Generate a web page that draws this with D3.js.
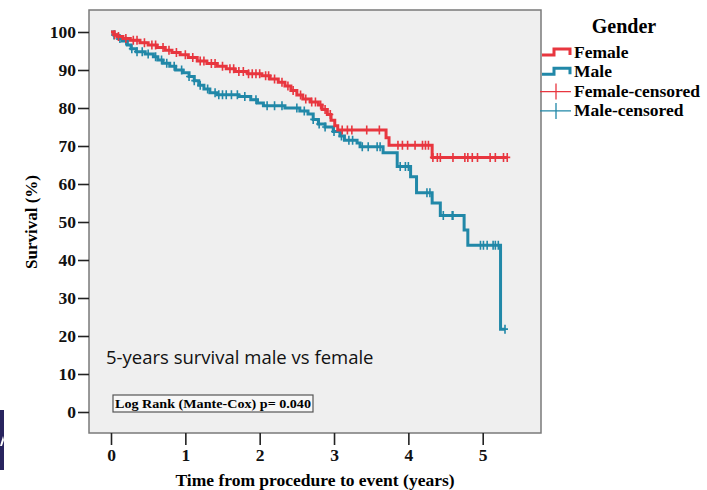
<!DOCTYPE html>
<html>
<head>
<meta charset="utf-8">
<script src="https://cdn.jsdelivr.net/npm/d3@7"></script>
<style>
  body { margin: 0; background: #fff; }
  svg { display: block; }
</style>
</head>
<body>
<div class="canvas"></div>
<script>
const dims = { width: 707, height: 490 };

// Female (Kaplan-Meier steps: event time in years, survival % after step)
const femaleTimes = [0.04, 0.09, 0.16, 0.26, 0.39, 0.50, 0.62, 0.73, 0.82, 0.93, 1.04, 1.16, 1.29, 1.43, 1.55, 1.67, 1.84, 2.03, 2.14, 2.25, 2.34, 2.42, 2.50, 2.58, 2.68, 2.79, 2.84, 2.91, 2.96, 3.01, 3.05, 3.70, 3.74, 4.32];
const femaleSurv = [99.3, 98.8, 98.3, 97.8, 97.2, 96.6, 95.9, 95.2, 94.6, 94.0, 93.3, 92.4, 91.7, 91.0, 90.3, 89.6, 89.0, 88.5, 87.6, 86.8, 85.8, 84.6, 83.4, 82.4, 81.6, 80.8, 79.6, 78.3, 76.8, 75.3, 74.2, 72.2, 70.2, 67.0];
const femaleEnd = 5.33;
const femaleCensored = [0.05, 0.1, 0.2, 0.3, 0.35, 0.45, 0.55, 0.6, 0.7, 0.78, 0.88, 1.0, 1.1, 1.2, 1.25, 1.35, 1.4, 1.5, 1.6, 1.65, 1.72, 1.78, 1.85, 1.9, 1.95, 2.0, 2.08, 2.12, 2.2, 2.3, 2.38, 2.45, 2.55, 2.62, 2.7, 2.75, 2.82, 2.88, 2.95, 3.11, 3.18, 3.24, 3.44, 3.61, 3.86, 3.92, 3.99, 4.09, 4.19, 4.23, 4.27, 4.33, 4.39, 4.43, 4.60, 4.76, 4.80, 4.86, 4.93, 5.10, 5.17, 5.28, 5.33];

// Male
const maleTimes = [0.04, 0.09, 0.15, 0.22, 0.27, 0.34, 0.46, 0.57, 0.63, 0.70, 0.79, 0.87, 0.97, 1.05, 1.12, 1.18, 1.25, 1.33, 1.43, 1.72, 1.88, 1.97, 2.05, 2.34, 2.54, 2.65, 2.72, 2.79, 2.88, 2.99, 3.08, 3.14, 3.31, 3.35, 3.66, 3.85, 4.03, 4.11, 4.32, 4.43, 4.75, 4.80, 5.24];
const maleSurv = [99.2, 98.3, 97.6, 96.6, 95.6, 94.8, 94.2, 93.5, 92.6, 91.8, 91.0, 90.0, 89.3, 88.3, 87.2, 86.0, 85.0, 84.0, 83.5, 83.0, 82.2, 81.3, 80.6, 80.0, 79.2, 78.4, 77.0, 75.8, 75.0, 73.8, 72.6, 71.5, 70.8, 69.8, 68.2, 64.6, 61.9, 57.7, 55.0, 51.7, 47.9, 43.9, 21.8];
const maleEnd = 5.30;
const maleCensored = [0.04, 0.12, 0.2, 0.28, 0.35, 0.42, 0.5, 0.6, 0.68, 0.75, 0.85, 0.95, 1.05, 1.12, 1.2, 1.3, 1.4, 1.45, 1.5, 1.55, 1.62, 1.7, 1.8, 1.95, 2.1, 2.2, 2.3, 2.5, 2.6, 2.72, 2.8, 2.88, 3.0, 3.1, 3.2, 3.25, 3.38, 3.46, 3.58, 3.62, 3.89, 3.96, 4.0, 4.25, 4.29, 4.47, 4.59, 4.6, 4.97, 5.01, 5.06, 5.14, 5.17, 5.21, 5.30];

const xTicks = [0, 1, 2, 3, 4, 5];
const yTicks = [0, 10, 20, 30, 40, 50, 60, 70, 80, 90, 100];
const legendLabels = ['Female', 'Male', 'Female-censored', 'Male-censored'];

const red = '#e8363f';
const blue = '#2188a8';
const serif = '"Liberation Serif", "Times New Roman", serif';

const svg = d3.select('.canvas')
  .append('svg')
  .attr('width', dims.width)
  .attr('height', dims.height)

const box = { left: 89, right: 541, top: 10, bottom: 433 };

const x = d3.scaleLinear().domain([0, 5]).range([111, 482.7]);
const y = d3.scaleLinear().domain([0, 100]).range([412, 32]);

// plot background
svg.append('rect')
  .attr('x', box.left)
  .attr('y', box.top)
  .attr('width', box.right - box.left)
  .attr('height', box.bottom - box.top)
  .attr('fill', '#efefef')
  .attr('stroke', '#7a7a7a')
  .attr('stroke-width', 1.5)

// axes
const yAxis = d3.axisLeft(y).tickValues(yTicks).tickSize(11).tickPadding(2).tickFormat(d3.format('d'));
const xAxis = d3.axisBottom(x).tickValues(xTicks).tickSize(12).tickPadding(4).tickFormat(d3.format('d'));

const gy = svg.append('g')
  .attr('transform', `translate(${box.left}, 0)`)
  .call(yAxis)
const gx = svg.append('g')
  .attr('transform', `translate(0, ${box.bottom})`)
  .call(xAxis)

;[gx, gy].forEach(g => {
  g.select('.domain').remove()
  g.selectAll('.tick line').attr('stroke', '#222').attr('stroke-width', 1.6)
  g.selectAll('.tick text')
    .attr('fill', '#111')
    .style('font-family', serif)
    .style('font-weight', 'bold')
    .style('font-size', '17.5px')
})

// axis titles
svg.append('text')
  .attr('x', 315)
  .attr('y', 486)
  .attr('text-anchor', 'middle')
  .style('font-family', serif)
  .style('font-weight', 'bold')
  .style('font-size', '17.5px')
  .text('Time from procedure to event (years)')

svg.append('text')
  .attr('transform', 'translate(37, 222) rotate(-90)')
  .attr('text-anchor', 'middle')
  .style('font-family', serif)
  .style('font-weight', 'bold')
  .style('font-size', '17px')
  .text('Survival (%)')

// curves
const stepPoints = (times, surv, end) => {
  const pts = [[0, 100]]
  times.forEach((t, i) => pts.push([t, surv[i]]))
  pts.push([end, surv[surv.length - 1]])
  return pts
}
const survAt = (times, surv, t) => {
  let s = 100
  times.forEach((tt, i) => { if (tt <= t) s = surv[i] })
  return s
}

const line = d3.line()
  .x(d => x(d[0]))
  .y(d => y(d[1]))
  .curve(d3.curveStepAfter)

const series = [
  { times: maleTimes, surv: maleSurv, end: maleEnd, cens: maleCensored, color: blue },
  { times: femaleTimes, surv: femaleSurv, end: femaleEnd, cens: femaleCensored, color: red },
]

series.forEach(s => {
  svg.append('path')
    .datum(stepPoints(s.times, s.surv, s.end))
    .attr('d', line)
    .attr('fill', 'none')
    .attr('stroke', s.color)
    .attr('stroke-width', 3)

  svg.append('g')
    .selectAll('path')
    .data(s.cens)
    .enter()
    .append('path')
    .attr('d', t => {
      const cx = x(t), cy = y(survAt(s.times, s.surv, t))
      return `M${cx},${cy - 4.5}V${cy + 4.5}M${cx - 3},${cy}H${cx + 3}`
    })
    .attr('stroke', s.color)
    .attr('stroke-width', 1.6)
    .attr('fill', 'none')
})

// annotation text
svg.append('text')
  .attr('x', 106)
  .attr('y', 364)
  .style('font-family', '"Open Sans", "Noto Sans", sans-serif')
  .style('font-size', '18.5px')
  .attr('fill', '#111')
  .text('5-years survival male vs female')

// log rank box
svg.append('rect')
  .attr('x', 113)
  .attr('y', 395)
  .attr('width', 200)
  .attr('height', 17)
  .attr('fill', '#f7f7f7')
  .attr('stroke', '#555')
  .attr('stroke-width', 1.2)
svg.append('text')
  .attr('x', 115)
  .attr('y', 408)
  .attr('textLength', 196)
  .attr('lengthAdjust', 'spacingAndGlyphs')
  .style('font-family', serif)
  .style('font-weight', 'bold')
  .style('font-size', '13.5px')
  .text('Log Rank (Mante-Cox) p= 0.040')

// legend
const legend = svg.append('g')
legend.append('text')
  .attr('x', 624)
  .attr('y', 33)
  .attr('text-anchor', 'middle')
  .style('font-family', serif)
  .style('font-weight', 'bold')
  .style('font-size', '20px')
  .text('Gender')

const legendColors = [red, blue, red, blue];
legendLabels.forEach((lab, i) => {
  const ly = 55 + i * 19.3
  if (i < 2) {
    legend.append('path')
      .attr('d', `M542,${ly}H554V${ly - 6}H570V${ly}`)
      .attr('fill', 'none')
      .attr('stroke', legendColors[i])
      .attr('stroke-width', 3)
  } else {
    legend.append('path')
      .attr('d', `M540,${ly - 2}H571M556,${ly - 10}V${ly + 6}`)
      .attr('fill', 'none')
      .attr('stroke', legendColors[i])
      .attr('stroke-width', 1.3)
  }
  legend.append('text')
    .attr('x', 574)
    .attr('y', ly + 3)
    .style('font-family', serif)
    .style('font-weight', 'bold')
    .style('font-size', '17.5px')
    .text(lab)
})

// cropped logo fragment at left edge
svg.append('rect')
  .attr('x', 0).attr('y', 410)
  .attr('width', 4).attr('height', 60)
  .attr('fill', '#28245e')
svg.append('path')
  .attr('d', 'M0,446L3,436L4,440L2,446Z')
  .attr('fill', '#fff')
</script>
</body>
</html>
